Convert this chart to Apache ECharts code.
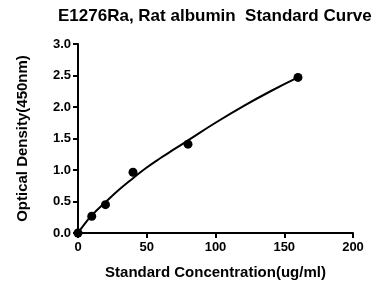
<!DOCTYPE html>
<html>
<head>
<meta charset="utf-8">
<script src="https://cdn.jsdelivr.net/npm/echarts@6/dist/echarts.min.js"></script>
<style>
  html, body { margin: 0; padding: 0; background: #fff; }
  #con { width: 378px; height: 286px; }
</style>
</head>
<body>
<div id="con"></div>
<script>
// measured standards
var conc = [0, 10, 20, 40, 80, 160];
var od = [0, 0.265, 0.45, 0.965, 1.41, 2.47];

// fitted curve
var curveX = [0, 5, 10, 20, 30, 40, 50, 60, 70, 80, 100, 120, 140, 160];
var curveY = [0, 0.15, 0.28, 0.49, 0.69, 0.87, 1.04, 1.19, 1.33, 1.47, 1.75, 2.01, 2.25, 2.47];

var xTicks = [0, 50, 100, 150, 200];
var yTicks = [0, 0.5, 1.0, 1.5, 2.0, 2.5, 3.0];

var points = [];
for (var i = 0; i < conc.length; i++) {
    points.push([conc[i], od[i]]);
}
var curve = [];
for (var i = 0; i < curveX.length; i++) {
    curve.push([curveX[i], curveY[i]]);
}

var font = 'Arial, "Liberation Sans", sans-serif';
var myChart = echarts.init(document.getElementById('con'));

var option = {
    animation: false,
    title: {
        text: 'E1276Ra, Rat albumin  Standard Curve',
        left: 53,
        top: 3,
        textStyle: { fontFamily: font, fontSize: 17, fontWeight: 'bold', color: '#000' }
    },
    grid: { left: 78, right: 25, top: 44, bottom: 53 },
    xAxis: {
        type: 'value',
        min: xTicks[0],
        max: xTicks[xTicks.length - 1],
        interval: 50,
        name: 'Standard Concentration(ug/ml)',
        nameLocation: 'middle',
        nameGap: 32,
        nameTextStyle: { fontFamily: font, fontSize: 15, fontWeight: 'bold', color: '#000' },
        axisLine: { lineStyle: { color: '#000', width: 2 } },
        axisTick: { length: 5, lineStyle: { color: '#000', width: 2 } },
        axisLabel: { fontFamily: font, fontSize: 13, fontWeight: 'bold', color: '#000', margin: 8 },
        splitLine: { show: false }
    },
    yAxis: {
        type: 'value',
        min: yTicks[0],
        max: yTicks[yTicks.length - 1],
        interval: 0.5,
        name: 'Optical Density(450nm)',
        nameLocation: 'middle',
        nameGap: 48,
        nameTextStyle: { fontFamily: font, fontSize: 15, fontWeight: 'bold', color: '#000' },
        axisLine: { show: true, lineStyle: { color: '#000', width: 2 } },
        axisTick: { show: true, length: 5, lineStyle: { color: '#000', width: 2 } },
        axisLabel: {
            fontFamily: font, fontSize: 13, fontWeight: 'bold', color: '#000', margin: 7,
            formatter: function (v) { return v.toFixed(1); }
        },
        splitLine: { show: false }
    },
    series: [
        {
            type: 'line',
            data: curve,
            smooth: true,
            showSymbol: false,
            lineStyle: { color: '#000', width: 2 },
            z: 2
        },
        {
            type: 'scatter',
            data: points,
            symbolSize: 9,
            itemStyle: { color: '#000', opacity: 1 },
            z: 3
        }
    ]
};
myChart.setOption(option);
</script>
</body>
</html>
